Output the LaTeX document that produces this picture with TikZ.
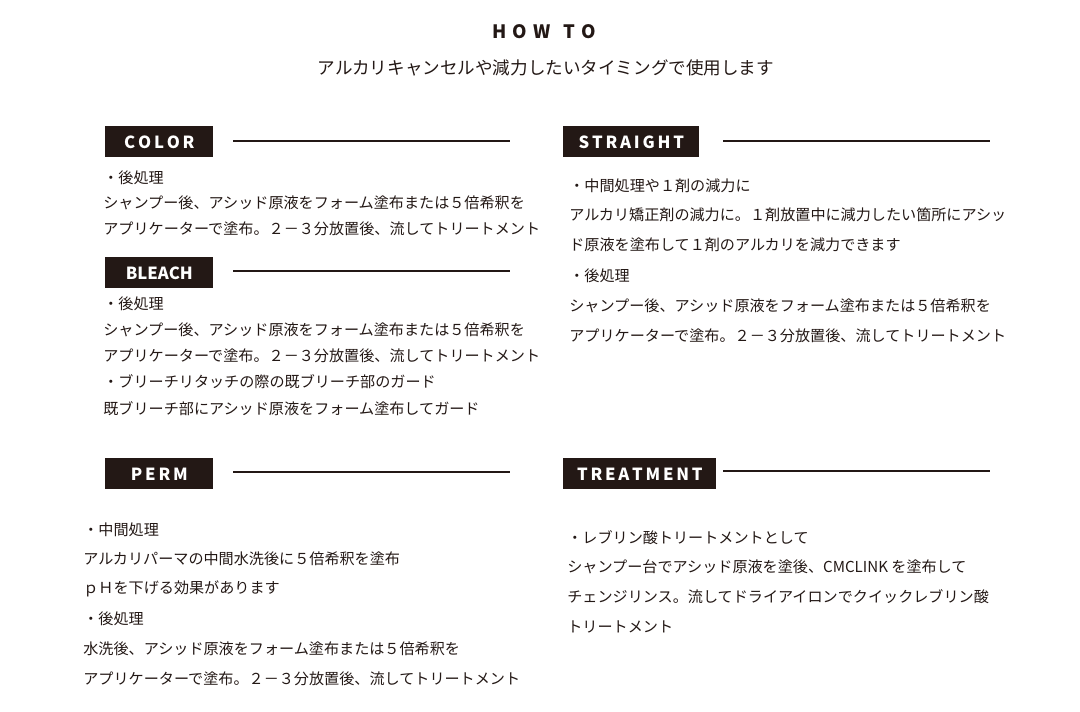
\documentclass[tikz,border=0pt]{standalone}
\usepackage{fontspec}
\setmainfont{Noto Sans CJK JP}
\definecolor{ink}{HTML}{231815}
\tikzset{
  tag/.style={fill=ink,text=white,font=\fontsize{9.5pt}{10pt}\selectfont\bfseries,anchor=north west,minimum height=31\pxu,inner sep=0pt},
  body/.style={anchor=west,inner sep=0pt,text=ink,font=\fontsize{8.6pt}{9pt}\selectfont},
  rule/.style={draw=ink,line width=1pt}
}
\newlength\pxu \setlength\pxu{0.02cm}
\begin{document}
\begin{tikzpicture}[x=0.02cm,y=-0.02cm]
\useasboundingbox (0,0) rectangle (1080,712);
% title
\node[text=ink,font=\fontsize{10.5pt}{11pt}\selectfont\bfseries] (title) at (544,32) {H\,\,O\,\,W\ \ \ T\,\,O};
\node[text=ink,font=\fontsize{10pt}{11pt}\selectfont] (sub) at (546,68) {アルカリキャンセルや減力したいタイミングで使用します};
% COLOR
\node[tag,minimum width=108\pxu] (color) at (105,126) {C\,O\,L\,O\,R};
\coordinate (colorA) at (233,141); \coordinate (colorB) at (510,141);
\draw[rule] (colorA) -- (colorB);
\node[body] (c1) at (103,178) {・後処理};
\node[body] (c2) at (103,203) {シャンプー後、アシッド原液をフォーム塗布または５倍希釈を};
\node[body] (c3) at (103,229) {アプリケーターで塗布。２－３分放置後、流してトリートメント};
% BLEACH
\node[tag,minimum width=108\pxu] (bleach) at (105,257) {BLEACH};
\coordinate (bleachA) at (233,271); \coordinate (bleachB) at (510,271);
\draw[rule] (bleachA) -- (bleachB);
\node[body] (b1) at (103,304) {・後処理};
\node[body] (b2) at (103,330) {シャンプー後、アシッド原液をフォーム塗布または５倍希釈を};
\node[body] (b3) at (103,356) {アプリケーターで塗布。２－３分放置後、流してトリートメント};
\node[body] (b4) at (103,382) {・ブリーチリタッチの際の既ブリーチ部のガード};
\node[body] (b5) at (103,409) {既ブリーチ部にアシッド原液をフォーム塗布してガード};
% STRAIGHT
\node[tag,minimum width=136\pxu] (straight) at (563,126) {S\,T\,R\,A\,I\,G\,H\,T};
\coordinate (straightA) at (723,141); \coordinate (straightB) at (990,141);
\draw[rule] (straightA) -- (straightB);
\node[body] (s1) at (569,186) {・中間処理や１剤の減力に};
\node[body] (s2) at (569,215) {アルカリ矯正剤の減力に。１剤放置中に減力したい箇所にアシッ};
\node[body] (s3) at (569,245) {ド原液を塗布して１剤のアルカリを減力できます};
\node[body] (s4) at (569,276) {・後処理};
\node[body] (s5) at (569,306) {シャンプー後、アシッド原液をフォーム塗布または５倍希釈を};
\node[body] (s6) at (569,336) {アプリケーターで塗布。２－３分放置後、流してトリートメント};
% PERM
\node[tag,minimum width=108\pxu] (perm) at (105,458) {P\,E\,R\,M};
\coordinate (permA) at (233,472); \coordinate (permB) at (510,472);
\draw[rule] (permA) -- (permB);
\node[body] (p1) at (83,530) {・中間処理};
\node[body] (p2) at (83,559) {アルカリパーマの中間水洗後に５倍希釈を塗布};
\node[body] (p3) at (83,589) {ｐＨを下げる効果があります};
\node[body] (p4) at (83,619) {・後処理};
\node[body] (p5) at (83,649) {水洗後、アシッド原液をフォーム塗布または５倍希釈を};
\node[body] (p6) at (83,679) {アプリケーターで塗布。２－３分放置後、流してトリートメント};
% TREATMENT
\node[tag,minimum width=153\pxu] (treat) at (563,458) {T\,R\,E\,A\,T\,M\,E\,N\,T};
\coordinate (treatA) at (723,471); \coordinate (treatB) at (990,471);
\draw[rule] (treatA) -- (treatB);
\node[body] (t1) at (567,538) {・レブリン酸トリートメントとして};
\node[body] (t2) at (567,567) {シャンプー台でアシッド原液を塗後、CMCLINK を塗布して};
\node[body] (t3) at (567,597) {チェンジリンス。流してドライアイロンでクイックレブリン酸};
\node[body] (t4) at (567,627) {トリートメント};
\end{tikzpicture}
\end{document}
